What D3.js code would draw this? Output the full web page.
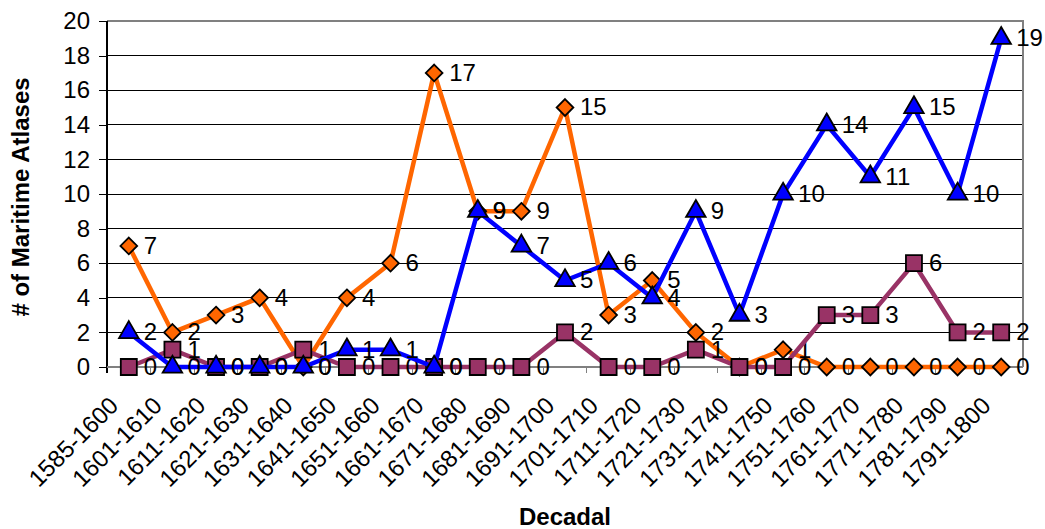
<!DOCTYPE html>
<html>
<head>
<meta charset="utf-8">
<script src="https://cdn.jsdelivr.net/npm/d3@7"></script>
<style>
  html, body { margin: 0; padding: 0; background: #fff; }
  svg { display: block; font-family: Arial, "Liberation Sans", sans-serif; }
</style>
</head>
<body>
<svg id="chart" width="1045" height="529"></svg>
<script>
// Decade buckets on the x axis
const decades = ["1585-1600","1601-1610","1611-1620","1621-1630","1631-1640","1641-1650",
  "1651-1660","1661-1670","1671-1680","1681-1690","1691-1700","1701-1710","1711-1720",
  "1721-1730","1731-1740","1741-1750","1751-1760","1761-1770","1771-1780","1781-1790","1791-1800"];

// Counts of maritime atlases per decade, one array per series
const seriesOrange = [7,2,3,4,0,4,6,17,9,9,15,3,5,2,0,1,0,0,0,0,0];
const seriesPurple = [0,1,0,0,1,0,0,0,0,0,2,0,0,1,0,0,3,3,6,2,2];
const seriesBlue   = [2,0,0,0,0,1,1,0,9,7,5,6,4,9,3,10,14,11,15,10,19];

const yTicks = [0,2,4,6,8,10,12,14,16,18,20];

const FONT = 24;
const svg = d3.select("#chart");
const plot = { left: 107, right: 1023, top: 21, bottom: 367 };

const x = d3.scaleBand().domain(decades).range([plot.left, plot.right]).padding(0);
const y = d3.scaleLinear().domain([0, 20]).range([plot.bottom, plot.top]);
const cx = d => x(d) + x.bandwidth() / 2;

// horizontal gridlines
svg.append("g").selectAll("line").data(yTicks.filter(t => t > 0 && t < 20)).join("line")
  .attr("x1", plot.left).attr("x2", plot.right)
  .attr("y1", d => y(d)).attr("y2", d => y(d))
  .attr("stroke", "#000").attr("stroke-width", 1).attr("shape-rendering", "crispEdges");

// plot frame (top and right) in grey
svg.append("path")
  .attr("d", `M${plot.left},${plot.top}H${plot.right}V${plot.bottom}`)
  .attr("fill", "none").attr("stroke", "#808080").attr("stroke-width", 2)
  .attr("shape-rendering", "crispEdges");

// y axis
const yAxis = d3.axisLeft(y).tickValues(yTicks).tickSize(8).tickPadding(9).tickSizeOuter(0);
const gy = svg.append("g").attr("transform", `translate(${plot.left},0)`).call(yAxis);
gy.select(".domain").remove();
gy.selectAll(".tick line").attr("stroke", "#000").attr("shape-rendering", "crispEdges");
gy.selectAll(".tick text").attr("font-size", FONT).attr("font-family", "Arial, 'Liberation Sans', sans-serif").attr("fill", "#000");
svg.append("line").attr("x1", plot.left).attr("x2", plot.left)
  .attr("y1", plot.top).attr("y2", plot.bottom + 6)
  .attr("stroke", "#000").attr("stroke-width", 1.5).attr("shape-rendering", "crispEdges");

// x axis line and tick marks at category boundaries
svg.append("line").attr("x1", plot.left).attr("x2", plot.right)
  .attr("y1", plot.bottom).attr("y2", plot.bottom)
  .attr("stroke", "#808080").attr("stroke-width", 2).attr("shape-rendering", "crispEdges");
svg.append("g").selectAll("line").data(decades.slice(1)).join("line")
  .attr("x1", d => x(d)).attr("x2", d => x(d))
  .attr("y1", plot.bottom).attr("y2", plot.bottom + 6)
  .attr("stroke", "#808080").attr("stroke-width", 1).attr("shape-rendering", "crispEdges");

// rotated category labels
svg.append("g").selectAll("text").data(decades).join("text")
  .attr("transform", d => `translate(${cx(d) - 9},${407}) rotate(-45)`)
  .attr("text-anchor", "end")
  .attr("font-size", FONT).attr("fill", "#000")
  .text(d => d);

// axis titles
svg.append("text")
  .attr("transform", `translate(29,${(plot.top + plot.bottom) / 2 + 3}) rotate(-90)`)
  .attr("text-anchor", "middle").attr("font-size", FONT).attr("font-weight", "bold")
  .text("# of Maritime Atlases");
svg.append("text")
  .attr("x", (plot.left + plot.right) / 2).attr("y", 525)
  .attr("text-anchor", "middle").attr("font-size", FONT).attr("font-weight", "bold")
  .text("Decadal");

// a square turned 45 degrees, equal width and height
const diamond = {
  draw(ctx, size) {
    const r = Math.sqrt(size / 2);
    ctx.moveTo(0, -r); ctx.lineTo(r, 0); ctx.lineTo(0, r); ctx.lineTo(-r, 0); ctx.closePath();
  }
};

// series definitions: drawn orange, then purple, then blue on top
const series = [
  { values: seriesOrange, color: "#FF6600", symbol: diamond,           size: 140, width: 4.5 },
  { values: seriesPurple, color: "#993366", symbol: d3.symbolSquare,   size: 256, width: 4.5 },
  { values: seriesBlue,   color: "#0000FF", symbol: d3.symbolTriangle, size: 165, width: 4.5 }
];

const line = d3.line().x((v, i) => cx(decades[i])).y(v => y(v));

series.forEach(s => {
  const g = svg.append("g");
  g.append("path").datum(s.values).attr("d", line)
    .attr("fill", "none").attr("stroke", s.color).attr("stroke-width", s.width)
    .attr("stroke-linejoin", "miter");
  g.selectAll("path.marker").data(s.values).join("path").attr("class", "marker")
    .attr("transform", (v, i) => `translate(${cx(decades[i])},${y(v)})`)
    .attr("d", d3.symbol().type(s.symbol).size(s.size))
    .attr("fill", s.color).attr("stroke", "#000").attr("stroke-width", 1.8);
  g.selectAll("text").data(s.values).join("text")
    .attr("x", (v, i) => cx(decades[i]) + 15)
    .attr("y", v => y(v))
    .attr("dy", "0.33em")
    .attr("font-size", FONT).attr("fill", "#000")
    .text(v => v);
});
</script>
</body>
</html>
